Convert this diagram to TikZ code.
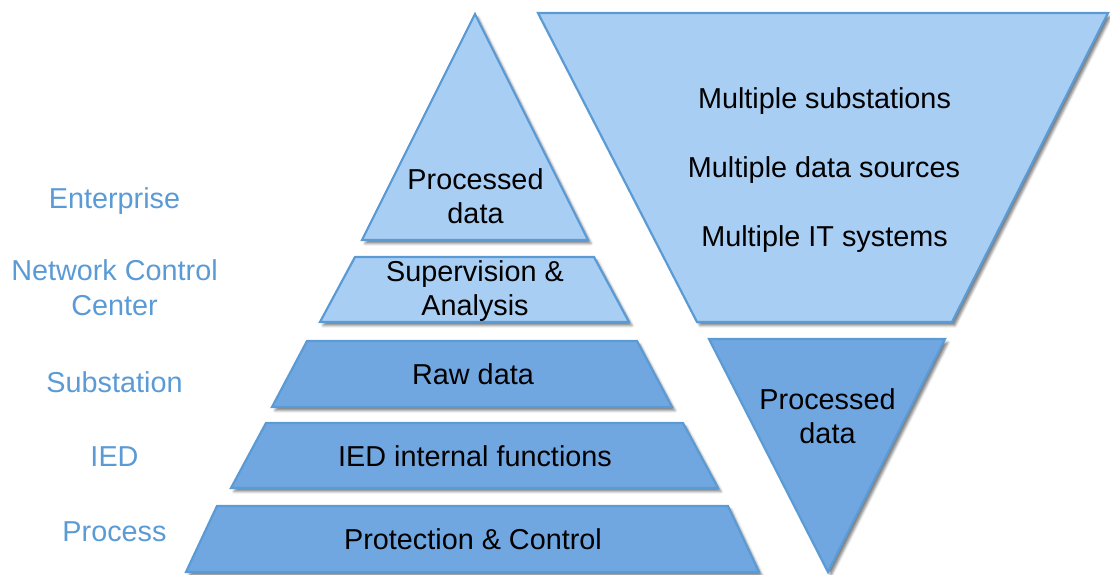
\documentclass[tikz,border=0pt]{standalone}
\usepackage{fontspec}
\setmainfont{Liberation Sans}
\usetikzlibrary{shadows.blur}
\definecolor{lightfill}{HTML}{A9CEF4}
\definecolor{darkfill}{HTML}{70A7E1}
\definecolor{edgeblue}{HTML}{5B9BD5}
\definecolor{labelblue}{HTML}{5B9BD5}
\begin{document}
\begin{tikzpicture}[x=1pt,y=-1pt,
  layer/.style={draw=edgeblue, line width=2.2pt, line join=miter,
    blur shadow={shadow xshift=3pt, shadow yshift=-3.5pt, shadow blur radius=2.5pt, shadow opacity=50}},
  light/.style={layer, fill=lightfill},
  dark/.style={layer, fill=darkfill},
  txt/.style={font=\fontsize{28.8}{33.5}\selectfont, align=center, inner sep=0pt},
  lbl/.style={font=\fontsize{28.8}{35}\selectfont, align=center, text=labelblue, inner sep=0pt}]
\useasboundingbox (0,0) rectangle (1110,574);

% pyramid
\draw[light] (475,14) -- (588,240) -- (362,240) -- cycle;
\draw[light] (355,257) -- (594,257) -- (629,322) -- (320,322) -- cycle;
\draw[dark]  (307,341) -- (637,341) -- (672,407) -- (272,407) -- cycle;
\draw[dark]  (266,423) -- (683,423) -- (718,488) -- (231,488) -- cycle;
\draw[dark]  (217,506) -- (728,506) -- (759,572) -- (186,572) -- cycle;

% inverted shapes
\draw[light] (538,13) -- (1108,13) -- (952,322) -- (697,322) -- cycle;
\draw[dark]  (709,339) -- (945,339) -- (828,572) -- cycle;

% pyramid texts
\node[txt] (pd1) at (475.5,196) {Processed\\data};
\node[txt] (sup) at (475,291) {Supervision \&\\Analysis};
\node[txt, anchor=base] (raw) at (473,384) {Raw data};
\node[txt, anchor=base] (ied) at (475,466) {IED internal functions};
\node[txt, anchor=base] (pc) at (473,549) {Protection \& Control};

% right texts
\node[txt, anchor=base] (ms) at (824.5,108) {Multiple substations};
\node[txt, anchor=base] (mds) at (824,177) {Multiple data sources};
\node[txt, anchor=base] (mit) at (824.5,246) {Multiple IT systems};
\node[txt] (pd2) at (827.5,416) {Processed\\data};

% left labels
\node[lbl, anchor=base] (ent) at (114.5,208) {Enterprise};
\node[lbl] (ncc) at (114.5,288) {Network Control\\Center};
\node[lbl, anchor=base] (sub) at (114.5,392) {Substation};
\node[lbl, anchor=base] (iedl) at (114.5,466) {IED};
\node[lbl, anchor=base] (proc) at (114.5,541) {Process};
\end{tikzpicture}
\end{document}
